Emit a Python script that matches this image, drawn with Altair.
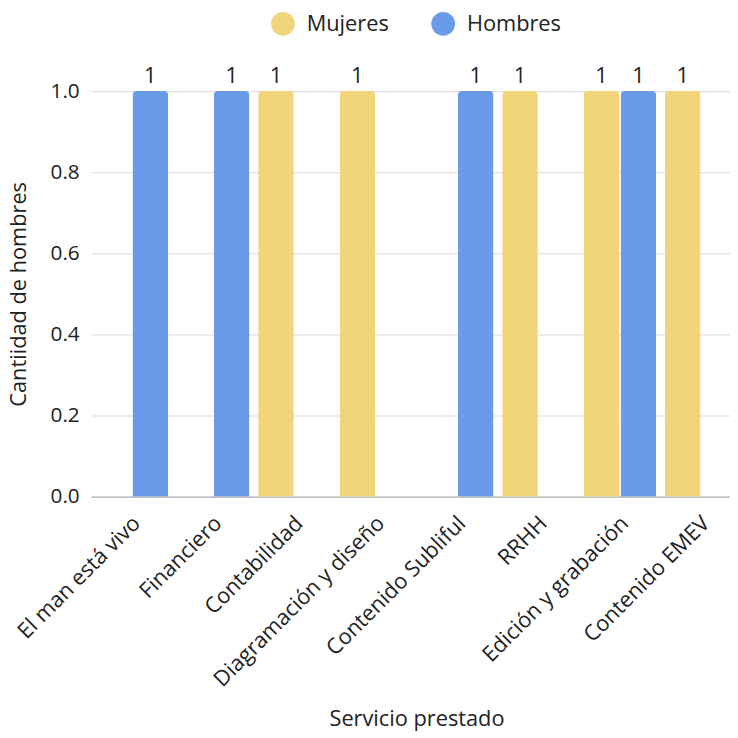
import altair as alt
import pandas as pd

categories = ["El man está vivo", "Financiero", "Contabilidad", "Diagramación y diseño",
              "Contenido Subliful", "RRHH", "Edición y grabación", "Contenido EMEV"]
mujeres = [None, None, 1, 1, None, 1, 1, 1]
hombres = [1, 1, None, None, 1, None, 1, None]
series = ["Mujeres", "Hombres"]
colors = ["#F2D57A", "#6A9BE8"]
y_ticks = [0, 0.2, 0.4, 0.6, 0.8, 1.0]

rows = []
for c, m, h in zip(categories, mujeres, hombres):
    if m is not None:
        rows.append({"servicio": c, "genero": "Mujeres", "valor": m})
    if h is not None:
        rows.append({"servicio": c, "genero": "Hombres", "valor": h})
df = pd.DataFrame(rows)

FONT = "Open Sans"
TXT = "#222222"

x_enc = alt.X("servicio:N", sort=categories,
              scale=alt.Scale(domain=categories, range=[-3, 655], paddingInner=0, paddingOuter=0),
              axis=alt.Axis(title="Servicio prestado", labelAngle=-45, labelAlign="right",
                            labelBaseline="middle", labelPadding=23, labelOffset=5,
                            labelLimit=400, labelOverlap=False, ticks=False,
                            domainColor="#a6a6a6", domainWidth=1,
                            labelFontSize=22, titleFontSize=22, titleFontWeight="normal",
                            titleY=231, titleBaseline="alphabetic",
                            labelColor=TXT, titleColor=TXT,
                            labelFont=FONT, titleFont=FONT, grid=False))
xo_enc = alt.XOffset("genero:N", sort=series,
                     scale=alt.Scale(domain=series, paddingInner=0.0374, paddingOuter=0.118))
y_enc = alt.Y("valor:Q", scale=alt.Scale(domain=[0, 1], nice=False),
              axis=alt.Axis(title="Cantiidad de hombres", values=y_ticks, format=".1f",
                            ticks=False, domain=False, gridColor="#d9d9d9", gridWidth=1,
                            labelPadding=15, labelFontSize=21, titleFontSize=22,
                            titleFontWeight="normal", titleX=-69, titleY=205,
                            titleAngle=-90, titleAlign="center", titleBaseline="alphabetic",
                            labelColor=TXT, titleColor=TXT,
                            labelFont=FONT, titleFont=FONT))
color_enc = alt.Color("genero:N", sort=series,
                      scale=alt.Scale(domain=series, range=colors),
                      legend=alt.Legend(title=None, orient="none", legendX=179, legendY=-80,
                                        direction="horizontal", symbolType="circle",
                                        symbolSize=576, symbolStrokeWidth=0,
                                        labelFontSize=22, labelFont=FONT, labelColor=TXT,
                                        labelOffset=12, columnPadding=42))

base = alt.Chart(df).encode(x=x_enc, xOffset=xo_enc, y=y_enc)

bars = base.mark_bar(cornerRadiusTopLeft=4, cornerRadiusTopRight=4).encode(color=color_enc)
labels = base.mark_text(baseline="alphabetic", dy=-8, fontSize=22, font=FONT,
                        color=TXT).encode(text=alt.Text("valor:Q", format="d"))

chart = alt.layer(bars, labels).properties(
    width=643, height=410,
    autosize=alt.AutoSizeParams(type="none"),
    padding={"left": 87, "top": 80, "right": 0, "bottom": 240},
    background="white",
).configure_view(stroke=None)

chart.save("out.html", embed_options={"renderer": "svg", "actions": False})
